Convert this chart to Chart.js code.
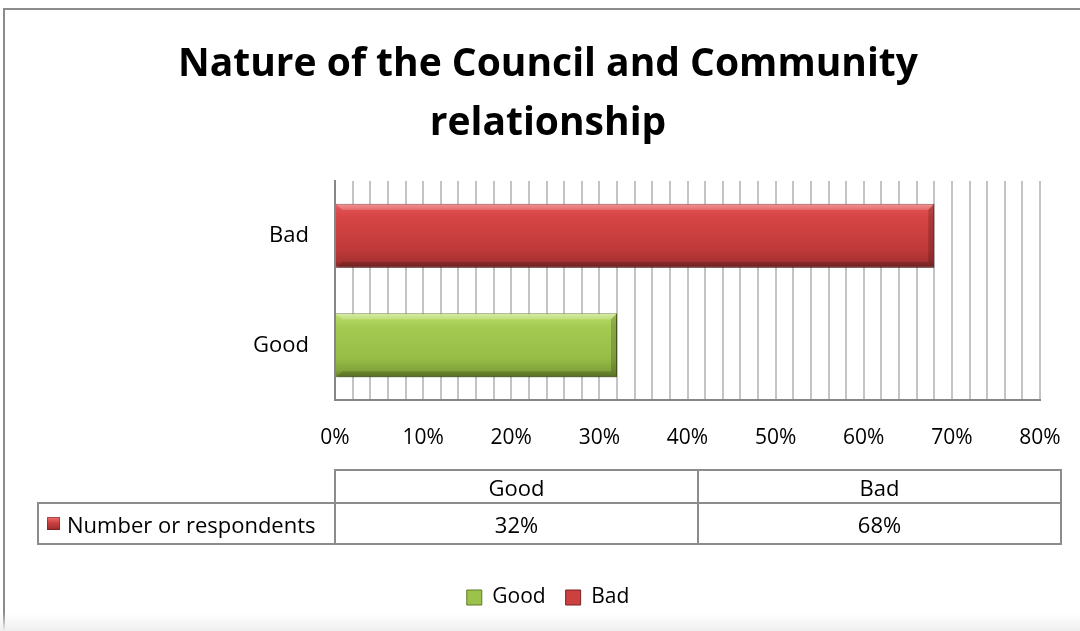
<!DOCTYPE html>
<html>
<head>
<meta charset="utf-8">
<script src="https://cdn.jsdelivr.net/npm/chart.js@4.4.0/dist/chart.umd.min.js"></script>
<style>
html,body{margin:0;padding:0;background:#fff;}
#wrap{position:relative;width:1080px;height:631px;overflow:hidden;font-family:"Open Sans",Lato,sans-serif;background:#fff;}
#frame{position:absolute;left:3px;top:8px;width:1200px;height:800px;border-left:2px solid #8c8c8c;border-top:2px solid #8c8c8c;pointer-events:none;}
#c{position:absolute;left:0;top:0;}
.cell{position:absolute;box-sizing:border-box;border:2px solid #8c8c8c;font-size:22px;color:#000;display:flex;align-items:center;justify-content:center;white-space:nowrap;}
.cell.leg{justify-content:flex-start;padding-left:8px;}
.icon{display:inline-block;width:13px;height:13px;margin-right:7px;background:linear-gradient(#f07272,#cc4040 45%,#a83232 85%,#7e2424);box-shadow:inset 0 0 0 1px rgba(120,30,30,0.5);}
#shade{position:absolute;left:0;top:613px;width:1080px;height:18px;background:linear-gradient(rgba(240,240,240,0),#efefef);}
</style>
</head>
<body>
<div id="wrap">
  <canvas id="c" width="1080" height="631"></canvas>
  <div id="tbl"></div>
  <div id="frame"></div>
  <div id="shade"></div>
</div>
<script>
// ---- data ----
const categories = ['Good', 'Bad'];
const seriesName = 'Number or respondents';
const values = [32, 68];
const xTickLabels = [0, 10, 20, 30, 40, 50, 60, 70, 80];
const chartTitle = ['Nature of the Council and Community', 'relationship'];

// ---- style ----
const FONT = '"Open Sans", Lato, sans-serif';
const barStops = {
  Bad: [[0, '#f27676'], [0.07, '#e25252'], [0.2, '#d64545'], [0.7, '#c03a3a'], [0.9, '#a83232'], [1, '#7e2424']],
  Good: [[0, '#cfeb86'], [0.07, '#b6d965'], [0.2, '#a6cb53'], [0.7, '#98bd47'], [0.9, '#82a33a'], [1, '#637f27']]
};
const catColor = { Good: '#9bc24b', Bad: '#cc4040' };
const edgeColor = { Good: '#5f7a26', Bad: '#7a2323' };
const BAR_PCT = 0.585;

// ---- data table (HTML) ----
(function buildTable() {
  const tbl = document.getElementById('tbl');
  const colX = [38, 335, 698, 1061];
  const rowY = [470, 503, 544];
  function cell(x0, x1, y0, y1, html, cls) {
    const d = document.createElement('div');
    d.className = 'cell' + (cls ? ' ' + cls : '');
    d.style.left = (x0 - 1) + 'px';
    d.style.top = (y0 - 1) + 'px';
    d.style.width = (x1 - x0 + 2) + 'px';
    d.style.height = (y1 - y0 + 2) + 'px';
    d.innerHTML = html;
    tbl.appendChild(d);
  }
  categories.forEach((c, i) => cell(colX[i + 1], colX[i + 2], rowY[0], rowY[1], c));
  cell(colX[0], colX[1], rowY[1], rowY[2], '<span class="icon"></span>' + seriesName, 'leg');
  values.forEach((v, i) => cell(colX[i + 1], colX[i + 2], rowY[1], rowY[2], v + '%'));
})();

const shadowPlugin = {
  id: 'barShadow',
  beforeDatasetsDraw(chart) {
    const ctx = chart.ctx;
    ctx.save();
    ctx.shadowColor = 'rgba(0,0,0,0.28)';
    ctx.shadowBlur = 5;
    ctx.shadowOffsetX = 1;
    ctx.shadowOffsetY = 3;
  },
  afterDatasetsDraw(chart) {
    const ctx = chart.ctx;
    ctx.restore();
    // bevel highlights on each bar, positioned from the bar elements
    const meta = chart.getDatasetMeta(0);
    const b = 6;
    meta.data.forEach((el) => {
      const p = el.getProps(['x', 'y', 'base', 'height'], true);
      const x0 = p.base, x1 = p.x, t = p.y - p.height / 2, btm = p.y + p.height / 2;
      ctx.save();
      // top bevel (lighter)
      ctx.fillStyle = 'rgba(255,255,255,0.22)';
      ctx.beginPath();
      ctx.moveTo(x0, t); ctx.lineTo(x1, t); ctx.lineTo(x1 - b, t + b); ctx.lineTo(x0 + b, t + b); ctx.closePath(); ctx.fill();
      // right bevel (darker)
      ctx.fillStyle = 'rgba(0,0,0,0.18)';
      ctx.beginPath();
      ctx.moveTo(x1, t); ctx.lineTo(x1, btm); ctx.lineTo(x1 - b, btm - b); ctx.lineTo(x1 - b, t + b); ctx.closePath(); ctx.fill();
      // bottom bevel (darker)
      ctx.fillStyle = 'rgba(0,0,0,0.15)';
      ctx.beginPath();
      ctx.moveTo(x0, btm); ctx.lineTo(x1, btm); ctx.lineTo(x1 - b, btm - b); ctx.lineTo(x0 + b, btm - b); ctx.closePath(); ctx.fill();
      ctx.restore();
    });
  }
};

const PLOT_LEFT = 335, RIGHT_W = 40, PLOT_BOTTOM = 400, LAYOUT_LEFT = 16, LAYOUT_BOTTOM = 13;

new Chart(document.getElementById('c'), {
  type: 'bar',
  data: {
    labels: categories,
    datasets: [{
      label: seriesName,
      data: values,
      backgroundColor: (ctx) => {
        const chart = ctx.chart;
        const area = chart.chartArea;
        const cat = categories[ctx.dataIndex];
        if (!area || !chart.scales.y) return catColor[cat];
        const c = chart.scales.y.getPixelForValue(ctx.dataIndex);
        const half = (area.height / categories.length) * BAR_PCT / 2;
        const g = chart.ctx.createLinearGradient(0, c - half, 0, c + half);
        barStops[cat].forEach(s => g.addColorStop(s[0], s[1]));
        return g;
      },
      borderColor: categories.map(c => edgeColor[c]),
      borderWidth: 1,
      borderSkipped: 'start',
      barPercentage: BAR_PCT,
      categoryPercentage: 1.0
    }]
  },
  options: {
    indexAxis: 'y',
    responsive: false,
    animation: false,
    devicePixelRatio: 1,
    layout: { padding: { left: LAYOUT_LEFT, right: 0, top: 0, bottom: LAYOUT_BOTTOM } },
    scales: {
      x: {
        type: 'linear',
        min: 0, max: 80,
        ticks: {
          stepSize: 2,
          autoSkip: false,
          maxRotation: 0,
          padding: 3,
          color: '#000',
          font: { family: FONT, size: 21 },
          callback: (v) => xTickLabels.includes(v) ? v + '%' : ''
        },
        grid: { color: '#c4c4c4', lineWidth: 2, drawTicks: true, tickLength: 22, tickColor: 'rgba(0,0,0,0)' },
        border: { display: true, color: '#868686', width: 2 },
        afterFit: (scale) => {
          const lg = scale.chart.legend;
          const lh = lg ? lg.height : 0;
          scale.height = 631 - LAYOUT_BOTTOM - lh - PLOT_BOTTOM;
        }
      },
      y: {
        reverse: true,
        ticks: { padding: 26, color: '#000', font: { family: FONT, size: 22 } },
        grid: { display: false, drawTicks: false },
        border: { display: true, color: '#868686', width: 2 },
        afterFit: (scale) => { scale.width = PLOT_LEFT - LAYOUT_LEFT; }
      },
      y2: {
        type: 'linear',
        position: 'right',
        display: true,
        grid: { display: false, drawTicks: false },
        border: { display: false },
        ticks: { display: false },
        afterFit: (scale) => { scale.width = RIGHT_W; }
      }
    },
    plugins: {
      title: {
        display: true,
        text: chartTitle,
        color: '#000',
        font: { family: FONT, size: 39, weight: 'bold', lineHeight: 1.5 },
        padding: { top: 36, bottom: 28 }
      },
      legend: {
        display: true,
        position: 'bottom',
        labels: {
          boxWidth: 15,
          boxHeight: 15,
          padding: 20,
          color: '#000',
          font: { family: FONT, size: 21 },
          generateLabels: () => categories.map(c => ({
            text: c,
            fillStyle: catColor[c],
            strokeStyle: edgeColor[c],
            lineWidth: 1,
            hidden: false
          }))
        },
        onClick: () => {}
      },
      tooltip: { enabled: false }
    }
  },
  plugins: [shadowPlugin]
});
</script>
</body>
</html>
